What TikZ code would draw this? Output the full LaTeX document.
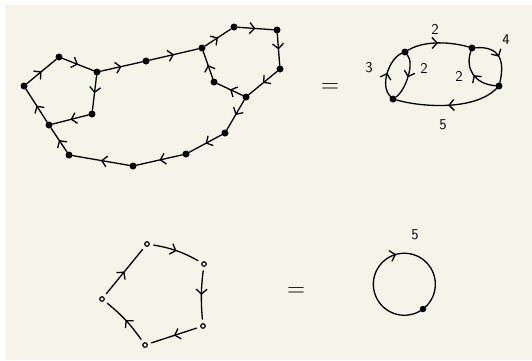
\documentclass[tikz,border=0pt]{standalone}
\usetikzlibrary{arrows.meta, decorations.markings, positioning}
\definecolor{paper}{HTML}{F6F4E9}

\begin{document}
\begin{tikzpicture}[
            x=1pt, y=-1pt,
            dot/.style={circle, fill=black, inner sep=0pt, minimum size=7pt},
            hollow/.style={circle, draw, line width=1.2pt, fill=paper, inner sep=0pt, minimum size=4.5pt},
            midarrow/.style={postaction={decorate}, decoration={markings,
                mark=at position #1 with {\arrow{Straight Barb[length=5pt,width=11pt]}}}},
            link/.style={line width=1.3pt, line cap=round, midarrow=#1},
            link/.default=0.5,
            gap/.style={shorten <=4pt, shorten >=4pt},
            lbl/.style={font=\sffamily\fontsize{15}{15}\selectfont},
            eq/.style={font=\fontsize{26}{26}\selectfont}
        ]
            % Paper
            \useasboundingbox (0,0) rectangle (532,360);
            \fill[paper] (5,5) rectangle (532,360);
            % Big graph
            \foreach \n/\x/\y in {1/24/86, 2/59/57, 3/97/72, 4/146/61, 5/202/48, 6/234/27,
                7/277/30, 8/280/69, 9/246/97, 10/214/82, 11/92/114, 12/49/125,
                13/69/155, 14/133/166, 15/186/154, 16/225/133} {
                \node[dot] (v\n) at (\x, \y) {};
            }
            \foreach \s/\t in {1/2, 2/3, 3/4, 4/5, 5/6, 6/7, 7/8, 8/9, 9/10, 10/5,
                9/16, 16/15, 15/14, 14/13, 13/12, 12/1, 3/11, 11/12} {
                \draw[link] (v\s) -- (v\t);
            }
            \node[eq] (eq1) at (330,88) {$=$};
            % Contracted graph
            \node[dot] (u1) at (405,52) {};
            \node[dot] (u2) at (393,99) {};
            \node[dot] (u3) at (472,48) {};
            \node[dot] (u4) at (499,86) {};
            \draw[link] (u1) .. controls +(20,-12) and +(-20,-6) .. (u3);
            \draw[link] (u3) .. controls +(28,-2) and +(6,-25) .. (u4);
            \draw[link] (u4) .. controls +(-25,-2) and +(-7,20) .. (u3);
            \draw[link] (u2) .. controls +(-14,-14) and +(-15,6) .. (u1);
            \draw[link] (u1) .. controls +(10,12) and +(12,-8) .. (u2);
            \draw[link] (u4) .. controls +(-25,25) and +(28,8) .. (u2);
            \node[lbl] at (435,29) {2};
            \node[lbl] at (506,40) {4};
            \node[lbl] at (459,76) {2};
            \node[lbl] at (424,68) {2};
            \node[lbl] at (369,68) {3};
            \node[lbl] at (443,125) {5};
            % Small cycle
            \node[hollow] (w1) at (147,244) {};
            \node[hollow] (w2) at (204,264) {};
            \node[hollow] (w3) at (203,326) {};
            \node[hollow] (w4) at (145,345) {};
            \node[hollow] (w5) at (102,299) {};
            \draw[link, gap] (w1) to[bend left=10] (w2);
            \draw[link, gap] (w2) to[bend right=6] (w3);
            \draw[link, gap] (w3) -- (w4);
            \draw[link, gap] (w4) to[bend right=8] (w5);
            \draw[link, gap] (w5) -- (w1);
            \node[eq] (eq2) at (296,292) {$=$};
            % Loop
            \node[dot, minimum size=6.5pt] (z) at (423,309) {};
            \draw[link=0.56] (z.center) arc[start angle=53, delta angle=360, radius=31];
            \node[lbl] at (415,235) {5};
        \end{tikzpicture}
\end{document}
